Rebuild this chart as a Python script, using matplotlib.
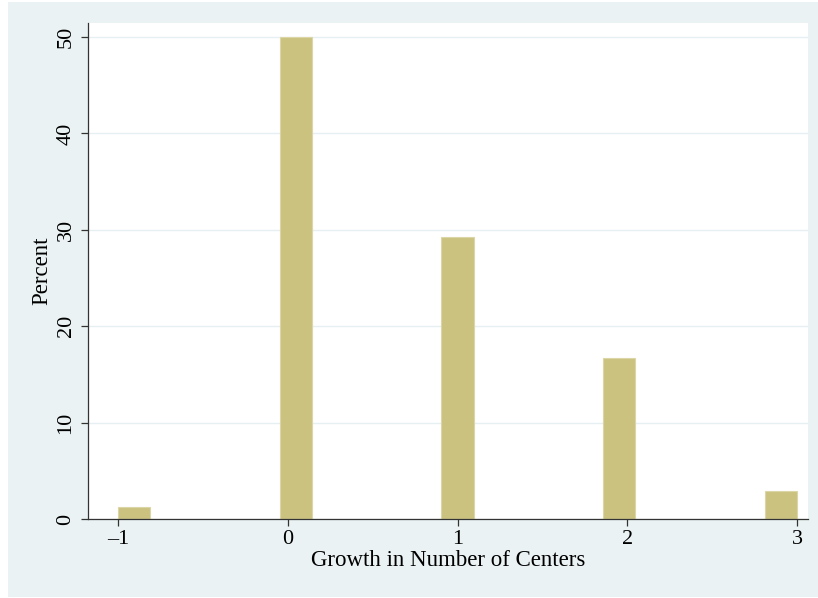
import numpy as np
import matplotlib.pyplot as plt
from matplotlib.patches import Rectangle

# Growth in number of centers and share of observations (percent)
growth = np.array([-1, 0, 1, 2, 3])
percent = np.array([1.2, 50.0, 29.3, 16.7, 2.9])
x_ticks = [-1, 0, 1, 2, 3]
x_tick_labels = ["\u20131", "0", "1", "2", "3"]
y_ticks = [0, 10, 20, 30, 40, 50]

bar_color = "#CBC280"
bg_color = "#EAF2F3"

plt.rcParams["font.family"] = ["Liberation Serif", "DejaVu Serif"]

fig = plt.figure(figsize=(8.18, 5.98), dpi=100, facecolor="white")
fig.patches.append(Rectangle((8 / 818, 1 / 598), 810 / 818, 595 / 598,
                             transform=fig.transFigure, facecolor=bg_color,
                             edgecolor="none", zorder=-10))

ax = fig.add_axes([88 / 818, 79 / 598, 720 / 818, 496 / 598])
ax.set_facecolor("white")

# 21 equal bins between -1 and 3
bins = np.linspace(-1, 3, 22)
ax.hist(growth, bins=bins, weights=percent, color=bar_color,
        edgecolor="#DCD6A6", linewidth=0.8, zorder=2)

ax.set_xlim(-1.177, 3.064)
ax.set_ylim(0, 51.45)

ax.set_yticks(y_ticks)
ax.set_yticklabels([str(t) for t in y_ticks], rotation=90, va="center")
ax.set_xticks(x_ticks)
ax.set_xticklabels(x_tick_labels)
ax.tick_params(axis="both", labelsize=16, length=5, width=0.9,
               color="#333333", direction="out")
ax.tick_params(axis="y", pad=4)
ax.tick_params(axis="x", pad=3)

ax.grid(axis="y", color="#E6EFF1", linewidth=1.0, zorder=1)
ax.set_axisbelow(True)

for side in ["top", "right"]:
    ax.spines[side].set_visible(False)
for side in ["left", "bottom"]:
    ax.spines[side].set_color("#333333")
    ax.spines[side].set_linewidth(0.9)

ax.set_xlabel("Growth in Number of Centers", fontsize=16.5, labelpad=1)
ax.set_ylabel("Percent", fontsize=16.5, labelpad=3)

fig.savefig("out.png", dpi=100, facecolor=fig.get_facecolor())
